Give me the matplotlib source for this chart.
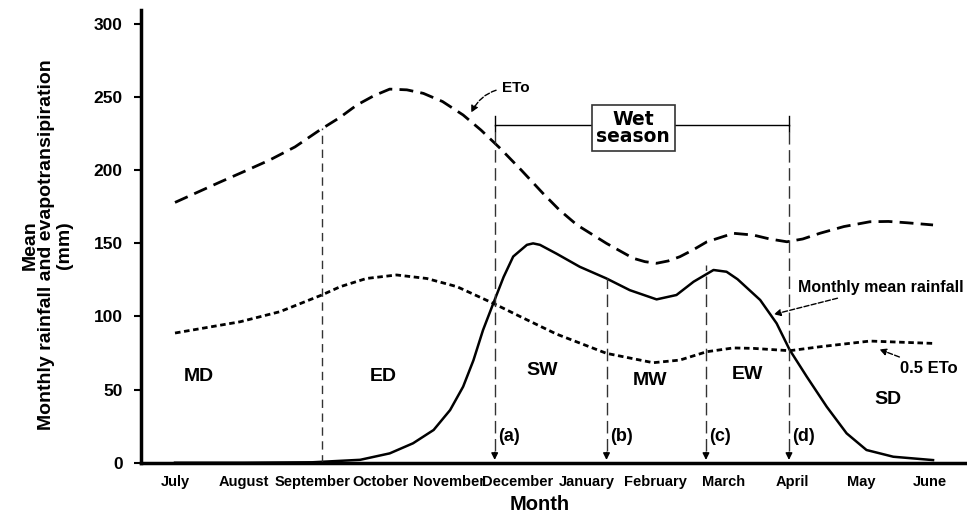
import matplotlib
matplotlib.use('Agg')
import matplotlib.pyplot as plt
from matplotlib import font_manager

plt.rcParams['font.family'] = ['Liberation Sans', 'DejaVu Sans']
plt.rcParams['font.weight'] = 'bold'

# month labels look condensed in the original, use narrow face if there is one
try:
    font_manager.findfont('Liberation Sans Narrow', fallback_to_default=False)
    month_font, month_size = 'Liberation Sans Narrow', 12.5
except Exception:
    month_font, month_size = 'Liberation Sans', 10.5

months = ['July', 'August', 'September', 'October', 'November', 'December',
          'January', 'February', 'March', 'April', 'May', 'June']

# positions in month units (0 = July), values in mm
eto_x = [0, 0.33, 0.66, 1.0, 1.38, 1.75, 2.11, 2.40, 2.65, 2.90, 3.13, 3.38,
         3.62, 3.90, 4.20, 4.46, 4.74, 5.05, 5.36, 5.60, 5.86, 6.29, 6.68,
         6.85, 7.02, 7.19, 7.36, 7.55, 7.75, 8.14, 8.43, 8.67, 8.92, 9.15,
         9.40, 9.75, 10.13, 10.40, 10.67, 11.05]
eto_y = [178, 185, 192, 199, 207, 216, 227.5, 236, 244.6, 251, 255.5, 255,
         252.6, 247, 237.8, 227.5, 215, 200, 184.4, 173, 162.6, 150, 139.8,
         137.5, 136.4, 138, 140.9, 145.5, 151, 156.9, 155.7, 153, 151.1, 153,
         156.9, 161.5, 164.8, 165, 164.1, 162.6]

half_eto_x = [0, 0.95, 1.53, 2.14, 2.41, 2.79, 3.23, 3.67, 4.11, 4.64, 5.03,
              5.56, 6.29, 6.97, 7.36, 7.75, 8.14, 8.43, 8.96, 9.40, 10.13, 11.05]
half_eto_y = [88.7, 96.4, 103.3, 114.7, 120.4, 126, 128.4, 126, 120.4, 109, 100,
              88, 74.8, 68.4, 70.2, 75.9, 78.5, 78.2, 76.6, 79.3, 83.2, 81.6]

rain_x = [0, 1, 2, 2.70, 3.13, 3.47, 3.77, 4.01, 4.20, 4.35, 4.49, 4.64, 4.79,
          4.93, 5.13, 5.22, 5.32, 5.56, 5.90, 6.29, 6.63, 7.02, 7.31, 7.56, 7.85,
          8.04, 8.20, 8.53, 8.77, 8.96, 9.21, 9.50, 9.79, 10.08, 10.47, 11.05]
rain_y = [0, 0, 0.3, 2, 6.4, 13.3, 22.4, 36, 52, 70, 90.7, 109, 127,
          141, 149, 150, 149, 143, 134, 126, 118, 111.7, 114.7, 123.8, 131.8,
          130.6, 125.5, 111.3, 95.3, 77.2, 58.8, 38.3, 20.1, 8.7, 4.1, 1.8]

# onset / transition lines: (x, top value)
sep_line = (2.14, 228.7)
marker_x = [4.66, 6.29, 7.74, 8.95]
marker_top = [231, 126, 135, 231]
marker_lbl = ['(a)', '(b)', '(c)', '(d)']

zones = ['MD', 'ED', 'SW', 'MW', 'EW', 'SD']
zone_x = [0.34, 3.03, 5.35, 6.93, 8.35, 10.39]
zone_y = [59, 59, 63, 56.5, 60, 43]

fig = plt.figure(figsize=(9.67, 5.13), dpi=100)
ax = fig.add_axes([0.1455, 0.098, 0.8545, 0.8825])

ax.plot(eto_x, eto_y, color='black', lw=2, dashes=(5, 2.6))
ax.plot(half_eto_x, half_eto_y, color='black', lw=2, dashes=(2, 1.3))
ax.plot(rain_x, rain_y, color='black', lw=1.8)

ax.plot([sep_line[0]] * 2, [0, sep_line[1]], color='#333333', lw=1, dashes=(6, 4))
for x, top, lbl in zip(marker_x, marker_top, marker_lbl):
    ax.plot([x, x], [8, top], color='#333333', lw=1, dashes=(9, 4))
    ax.annotate('', xy=(x, 0), xytext=(x, 9),
                arrowprops=dict(arrowstyle='-|>', color='black', lw=1, mutation_scale=10))
    ax.text(x + 0.05, 18, lbl, fontsize=13, fontweight='bold', ha='left', va='center')

for z, x, y in zip(zones, zone_x, zone_y):
    ax.text(x, y, z, fontsize=14, fontweight='bold', ha='center', va='center')

# wet season bracket
ax.plot([marker_x[0], marker_x[3]], [231, 231], color='black', lw=1)
ax.plot([marker_x[0]] * 2, [227, 237], color='black', lw=1)
ax.plot([marker_x[3]] * 2, [227, 237], color='black', lw=1)
ax.text(6.68, 229, 'Wet\nseason', fontsize=13.5, fontweight='bold', family='DejaVu Sans',
        ha='center', va='center', linespacing=0.9,
        bbox=dict(boxstyle='square,pad=0.25', fc='white', ec='#333333', lw=1.2))

# annotation arrows
ax.annotate('ETo', xy=(4.3, 237.7), xytext=(4.76, 256), fontsize=11, fontweight='bold',
            ha='left', va='center',
            arrowprops=dict(arrowstyle='-|>', color='black', lw=1, ls='--',
                            connectionstyle='arc3,rad=0.35', mutation_scale=10))
ax.annotate('Monthly mean rainfall', xy=(8.69, 101), xytext=(9.08, 120), fontsize=11.5,
            fontweight='bold', ha='left', va='center',
            arrowprops=dict(arrowstyle='-|>', color='black', lw=1, ls='--',
                            connectionstyle='arc3,rad=0', mutation_scale=10))
ax.annotate('0.5 ETo', xy=(10.23, 78.2), xytext=(10.57, 64.6), fontsize=12,
            fontweight='bold', ha='left', va='center',
            arrowprops=dict(arrowstyle='-|>', color='black', lw=1, ls='--',
                            connectionstyle='arc3,rad=0', mutation_scale=10))

ax.set_xlim(-0.5, 11.545)
ax.set_ylim(0, 309.6)
ax.set_xticks(range(len(months)))
ax.set_xticklabels(months, fontsize=month_size, fontweight='bold', family=month_font)
ax.tick_params(axis='x', length=0, pad=9)
ax.set_yticks([0, 50, 100, 150, 200, 250, 300])
ax.tick_params(axis='y', length=5, width=1.5, labelsize=12.5, pad=8)
for lab in ax.get_yticklabels():
    lab.set_fontweight('bold')
ax.spines['top'].set_visible(False)
ax.spines['right'].set_visible(False)
ax.spines['left'].set_linewidth(2.5)
ax.spines['bottom'].set_linewidth(2.5)

fig.text(540 / 967, 1 - 505 / 513, 'Month', fontsize=14.5, fontweight='bold',
         ha='center', va='center')
fig.text(47 / 967, 1 - 245 / 513, 'Mean\nMonthly rainfall and evapotransipiration\n(mm)',
         fontsize=14, fontweight='bold', rotation=90, ha='center', va='center',
         linespacing=1.0, multialignment='center')

fig.savefig('out.png', dpi=100)
